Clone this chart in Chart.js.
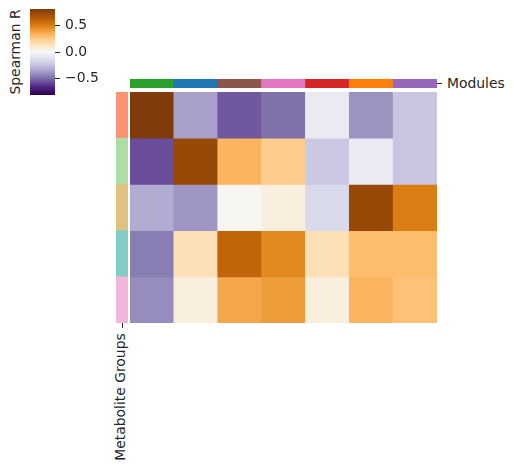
<!DOCTYPE html>
<html>
<head>
<meta charset="utf-8">
<script src="https://cdn.jsdelivr.net/npm/chart.js@4.4.1/dist/chart.umd.min.js"></script>
<style>
  html, body { margin: 0; padding: 0; background: #fff; }
  #wrap { position: relative; width: 514px; height: 470px; overflow: hidden; font-family: 'DejaVu Sans', sans-serif; color: #262626; }
  #wrap canvas { position: absolute; }
  .lbl { position: absolute; font-size: 13.9px; line-height: 1; white-space: nowrap; }
  .rot { transform: translate(-50%, -50%) rotate(-90deg); }
  .tick { position: absolute; background: #262626; }
</style>
</head>
<body>
<div id="wrap">
  <canvas id="cbar" width="80" height="104" style="left:30px;top:0px;width:80px;height:104px"></canvas>
  <div class="lbl rot" style="left:16px;top:52px">Spearman R</div>

  <canvas id="topStrip" width="307" height="9" style="left:130px;top:79px;width:307px;height:9px"></canvas>
  <div class="tick" style="left:437px;top:83px;width:5px;height:1px"></div>
  <div class="lbl" style="left:447px;top:77px">Modules</div>

  <canvas id="leftStrip" width="12" height="231" style="left:116px;top:92px;width:12px;height:231px"></canvas>
  <div class="tick" style="left:121.5px;top:323px;width:1px;height:5px"></div>
  <div class="lbl rot" style="left:121px;top:397px">Metabolite Groups</div>

  <canvas id="heat" width="307" height="231" style="left:130px;top:92px;width:307px;height:231px"></canvas>
</div>
<script>
// ---------- data ----------
const MODULES = ['green', 'blue', 'brown', 'pink', 'red', 'orange', 'purple'];
const MODULE_COLORS = ['#2ca02c', '#1f77b4', '#8c564b', '#e377c2', '#d62728', '#ff7f0e', '#9467bd'];

const GROUPS = ['Group 1', 'Group 2', 'Group 3', 'Group 4', 'Group 5'];
const GROUP_COLORS = ['#fd9173', '#acdea5', '#dfc27d', '#80cdc1', '#f1b6da'];

// Spearman R, one row per metabolite group, one column per module
const SPEARMAN_R = [
  [ 0.80, -0.35, -0.54, -0.48, -0.07, -0.39, -0.23],
  [-0.56,  0.73,  0.33,  0.24, -0.22, -0.07, -0.23],
  [-0.32, -0.38,  0.01,  0.06, -0.16,  0.73,  0.50],
  [-0.45,  0.16,  0.59,  0.46,  0.16,  0.30,  0.30],
  [-0.41,  0.06,  0.37,  0.40,  0.06,  0.33,  0.28],
];

const CBAR_MIN = -0.8;
const CBAR_MAX = 0.8;
const CBAR_TICKS = [-0.5, 0, 0.5];

// PuOr reversed (purple low -> brown high)
const PUOR_R = ['#2d004b', '#542788', '#8073ac', '#b2abd2', '#d8daeb', '#f7f7f7',
                '#fee0b6', '#fdb863', '#e08214', '#b35806', '#7f3b08'];

// ---------- helpers ----------
function hexRgb(h) {
  return [1, 3, 5].map(i => parseInt(h.slice(i, i + 2), 16));
}
const STOPS = PUOR_R.map(hexRgb);
function cmap(v) {
  let t = (v - CBAR_MIN) / (CBAR_MAX - CBAR_MIN);
  t = Math.min(1, Math.max(0, t));
  const p = t * (STOPS.length - 1);
  const i = Math.min(STOPS.length - 2, Math.floor(p));
  const f = p - i;
  const c = STOPS[i].map((a, k) => Math.round(a + (STOPS[i + 1][k] - a) * f));
  return `rgb(${c[0]},${c[1]},${c[2]})`;
}
function fmtTick(v) {
  return v < 0 ? '\u2212' + Math.abs(v).toFixed(1) : v.toFixed(1);
}

Chart.defaults.font.family = "'DejaVu Sans', sans-serif";
Chart.defaults.font.size = 13.9;
Chart.defaults.color = '#262626';

const bare = {
  responsive: false,
  animation: false,
  events: [],
  layout: { padding: 0 },
  plugins: { legend: { display: false }, tooltip: { enabled: false } },
};

// ---------- heatmap ----------
new Chart(document.getElementById('heat'), {
  type: 'bar',
  data: {
    labels: MODULES,
    datasets: GROUPS.map((g, i) => ({
      label: g,
      data: MODULES.map(() => [i, i + 1]),
      backgroundColor: SPEARMAN_R[i].map(cmap),
      borderWidth: 0,
      grouped: false,
      barPercentage: 1,
      categoryPercentage: 1,
    })),
  },
  options: {
    ...bare,
    scales: {
      x: { display: false },
      y: { display: false, min: 0, max: GROUPS.length, reverse: true },
    },
  },
});

// ---------- module colour strip ----------
new Chart(document.getElementById('topStrip'), {
  type: 'bar',
  data: {
    labels: MODULES,
    datasets: [{
      data: MODULES.map(() => 1),
      backgroundColor: MODULE_COLORS,
      borderWidth: 0,
      barPercentage: 1,
      categoryPercentage: 1,
    }],
  },
  options: {
    ...bare,
    scales: { x: { display: false }, y: { display: false, min: 0, max: 1 } },
  },
});

// ---------- group colour strip ----------
new Chart(document.getElementById('leftStrip'), {
  type: 'bar',
  data: {
    labels: GROUPS,
    datasets: [{
      data: GROUPS.map(() => 1),
      backgroundColor: GROUP_COLORS,
      borderWidth: 0,
      barPercentage: 1,
      categoryPercentage: 1,
    }],
  },
  options: {
    ...bare,
    indexAxis: 'y',
    scales: { x: { display: false, min: 0, max: 1 }, y: { display: false } },
  },
});

// ---------- colorbar ----------
new Chart(document.getElementById('cbar'), {
  type: 'bar',
  data: {
    labels: ['Spearman R'],
    datasets: [{
      data: [[CBAR_MIN, CBAR_MAX]],
      backgroundColor: ctx => {
        const a = ctx.chart.chartArea;
        if (!a) return PUOR_R[5];
        const g = ctx.chart.ctx.createLinearGradient(0, a.bottom, 0, a.top);
        PUOR_R.forEach((c, i) => g.addColorStop(i / (PUOR_R.length - 1), c));
        return g;
      },
      borderWidth: 0,
      barPercentage: 1,
      categoryPercentage: 1,
    }],
  },
  options: {
    ...bare,
    layout: { padding: { top: 9, bottom: 9, left: 0, right: 0 } },
    scales: {
      x: { display: false },
      y: {
        position: 'right',
        min: CBAR_MIN,
        max: CBAR_MAX,
        afterBuildTicks: s => { s.ticks = CBAR_TICKS.map(v => ({ value: v })); },
        afterFit: s => { s.width = 55; s.paddingTop = 0; s.paddingBottom = 0; },
        grid: { drawOnChartArea: false, drawTicks: true, tickLength: 5, color: '#262626', lineWidth: 1 },
        border: { display: false },
        ticks: { padding: 5, color: '#262626', callback: v => fmtTick(v) },
      },
    },
  },
});
</script>
</body>
</html>
